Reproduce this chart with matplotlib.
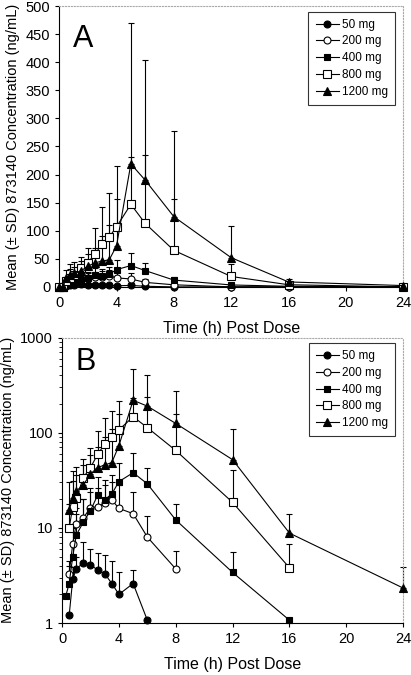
import numpy as np
import matplotlib.pyplot as plt
from matplotlib.ticker import FixedLocator, LogLocator, NullFormatter

plt.rcParams['font.family'] = ['Liberation Sans', 'DejaVu Sans']

# sampling times (h)
t = np.array([0, 0.25, 0.5, 0.75, 1, 1.5, 2, 2.5, 3, 3.5, 4, 5, 6, 8, 12, 16, 24])

# mean concentrations (ng/mL), 0 = below quantitation
mg50 = [0, 0, 1.2, 2.9, 3.7, 4.3, 4.1, 3.6, 3.3, 2.6, 2.0, 2.6, 1.07, 0, 0, 0, 0]
mg200 = [0, 0, 3.3, 6.8, 11, 12.8, 16.2, 16.7, 18.1, 19.7, 16, 14.1, 8, 3.7, 0, 0, 0]
mg400 = [0, 1.9, 2.6, 5.0, 8.4, 11.5, 15.2, 22, 19.8, 22.7, 30.6, 38, 29, 12.1, 3.4, 1.07, 0]
mg800 = [0, 0, 10, 16.5, 20.5, 33.8, 43, 59, 76, 89, 107, 147, 113, 65, 18.5, 3.8, 0]
mg1200 = [0, 0, 15.4, 20.4, 24.4, 28.3, 36.8, 43, 45.8, 48.5, 73, 219, 190, 125, 52, 8.8, 2.33]

# mean + SD (top of error bar)
top50 = [0, 0, 0, 3.9, 5.0, 7.1, 6.0, 5.4, 5.2, 4.5, 3.4, 3.6, 0, 0, 0, 0, 0]
top200 = [0, 0, 4.5, 10, 16, 20, 24, 26, 28, 30, 28, 24, 13.4, 5.7, 0, 0, 0]
top400 = [0, 0, 4, 9, 14, 20, 26, 34, 32, 36, 48, 61, 43, 18, 5.6, 0, 0]
top800 = [0, 0, 18, 31, 36, 46, 58, 70, 90, 110, 156, 232, 235, 157, 41, 6.8, 0]
top1200 = [0, 0, 30, 40, 44, 53, 69, 105, 143, 168, 216, 470, 404, 277, 109, 14, 3.9]

labels = ['50 mg', '200 mg', '400 mg', '800 mg', '1200 mg']
means = [mg50, mg200, mg400, mg800, mg1200]
tops = [top50, top200, top400, top800, top1200]
markers = ['o', 'o', 's', 's', '^']
faces = ['black', 'white', 'black', 'white', 'black']
sizes = [5, 5, 4.5, 6, 5.5]

fig = plt.figure(figsize=(4.11, 6.75), dpi=100)
axA = fig.add_axes([0.144, 0.575, 0.837, 0.416])
axB = fig.add_axes([0.151, 0.077, 0.830, 0.423])


def draw(ax, log):
    for m, tp, mk, fc, ms, lab in zip(means, tops, markers, faces, sizes, labels):
        y = np.array(m, dtype=float)
        up = np.array(tp, dtype=float)
        err = np.where(up > y, up - y, 0)
        if log:
            y = np.where(y > 0, y, np.nan)
        eb = ax.errorbar(t, y, yerr=[np.zeros_like(err), err], fmt='none',
                         ecolor='black', elinewidth=0.8, capsize=2.5, capthick=0.8)
        for art in eb.get_children():
            art.set_clip_on(False)
        ax.plot(t, y, color='black', lw=0.8, marker=mk, ms=ms,
                mfc=fc, mec='black', mew=0.8, label=lab, clip_on=False, zorder=3)
    ax.set_xlim(0, 24)
    ax.xaxis.set_major_locator(FixedLocator([0, 4, 8, 12, 16, 20, 24]))
    ax.tick_params(direction='out', length=3, width=0.8, labelsize=10.5)
    ax.tick_params(which='minor', direction='out', length=2, width=0.6)
    for s in ['top', 'right']:
        ax.spines[s].set_color('#aaaaaa')
        ax.spines[s].set_linestyle(':')
    for s in ['left', 'bottom']:
        ax.spines[s].set_linewidth(0.8)
    ax.set_xlabel('Time (h) Post Dose', fontsize=11.5, labelpad=8)
    ax.set_ylabel('Mean (± SD) 873140 Concentration (ng/mL)', fontsize=10.5, labelpad=4)
    leg = ax.legend(loc='upper right', bbox_to_anchor=(0.975, 0.98), fontsize=8.5,
                    frameon=True, fancybox=False, handlelength=2.0,
                    handletextpad=0.2, borderpad=0.6, labelspacing=0.4,
                    borderaxespad=0)
    leg.get_frame().set_edgecolor('black')
    leg.get_frame().set_linewidth(0.8)


draw(axA, False)
axA.set_ylim(0, 500)
axA.set_yticks(np.arange(0, 501, 50))
axA.text(0.04, 0.935, 'A', transform=axA.transAxes, fontsize=22, va='top', ha='left')

draw(axB, True)
axB.set_yscale('log')
axB.set_ylim(1, 1000)
axB.set_yticks([1, 10, 100, 1000])
axB.set_yticklabels(['1', '10', '100', '1000'])
axB.yaxis.set_minor_locator(LogLocator(base=10, subs=np.arange(2, 10)))
axB.yaxis.set_minor_formatter(NullFormatter())
axB.text(0.04, 0.965, 'B', transform=axB.transAxes, fontsize=22, va='top', ha='left')

fig.savefig('out.png', dpi=100)
